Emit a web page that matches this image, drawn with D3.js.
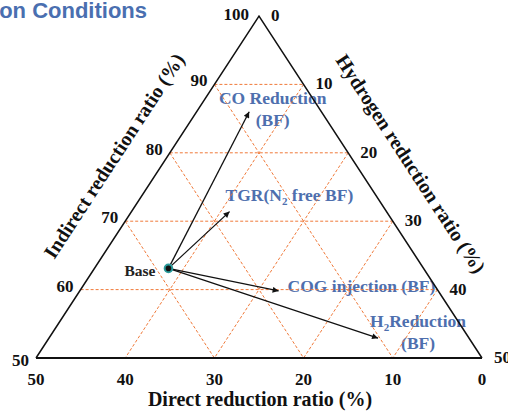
<!DOCTYPE html>
<html><head><meta charset="utf-8">
<script src="https://cdn.jsdelivr.net/npm/d3@7"></script>
<style>body{margin:0;background:#fff}svg{display:block}</style>
</head><body>
<script>
// ---- data ----
const indirectTicks = [100, 90, 80, 70, 60, 50];
const hydrogenTicks = [0, 10, 20, 30, 40, 50];
const directTicks = [50, 40, 30, 20, 10, 0];
const gridIndirect = [60, 70, 80, 90];
const gridDirect = [10, 20, 30];
const gridHydrogen = [10, 20, 30, 40];
const baseLabel = "Base";
const baseIndirect = 63.1;
const baseHydrogen = 8.3;
const caseNames = ["CO Reduction", "TGR", "COG injection", "H2 Reduction"];
const caseIndirect = [86.0, 71.4, 59.8, 52.9];
const caseHydrogen = [5.9, 11.0, 22.3, 36.9];
// label text pieces: [text, isSubscript] per line
const caseLabelLines = [
  [[["CO Reduction", 0]], [["(BF)", 0]]],
  [[["TGR(N", 0], ["2", 1], [" free BF)", 0]]],
  [[["COG injection (BF)", 0]]],
  [[["H", 0], ["2", 1], ["Reduction", 0]], [["(BF)", 0]]]
];
const titleText = "on Conditions";
const axisIndirect = "Indirect reduction ratio (%)";
const axisHydrogen = "Hydrogen reduction ratio (%)";
const axisDirect = "Direct reduction ratio (%)";

// ---- layout ----
const W = 508, H = 414;
const svg = d3.select("body").append("svg").attr("width", W).attr("height", H);
const serif = "'Liberation Serif','Times New Roman',serif";
const blue = "#4e6fae";
const orange = "#f07a3a";

const yScale = d3.scaleLinear().domain([50, 100]).range([358, 16]);
const hScale = d3.scaleLinear().domain([0, 50]).range([36, 482]);
const shear = d3.scaleLinear().domain([50, 100]).range([0, 223]);
const pos = (I, Hy) => [hScale(Hy) + shear(I), yScale(I)];

// title fragment
svg.append("text").attr("x", 147).attr("y", 18).attr("text-anchor", "end")
  .attr("font-family", "'Liberation Sans',Arial,sans-serif").attr("font-weight", "bold")
  .attr("font-size", 22).attr("fill", "#4a6fb0").text(titleText);

// case labels (drawn under grid)
const labelOffsets = [[23.5, -8, "middle"], [-4, -11, "start"], [9, 1, "start"], [40, -11, "middle"]];
const lineGap = 22;
caseNames.forEach((n, i) => {
  const [tx, ty] = pos(caseIndirect[i], caseHydrogen[i]);
  const [dx, dy, anchor] = labelOffsets[i];
  caseLabelLines[i].forEach((line, li) => {
    const t = svg.append("text").attr("x", tx + dx).attr("y", ty + dy + li * lineGap)
      .attr("text-anchor", anchor).attr("font-family", serif).attr("font-weight", "bold")
      .attr("font-size", 17.5).attr("fill", blue);
    line.forEach(([s, sub]) => {
      const sp = t.append("tspan").text(s);
      if (sub) sp.attr("font-size", 11).attr("dy", 4);
      else if (t.selectAll("tspan").size() > 1) sp.attr("dy", -4);
    });
  });
});

// grid
const grid = svg.append("g").attr("stroke", orange).attr("stroke-width", 1)
  .attr("stroke-dasharray", "3,2").attr("fill", "none");
const line = d3.line();
gridIndirect.forEach(I => grid.append("path").attr("d", line([pos(I, 0), pos(I, 100 - I)])));
gridDirect.forEach(D => grid.append("path").attr("d", line([pos(100 - D, 0), pos(50, 50 - D)])));
gridHydrogen.forEach(h => grid.append("path").attr("d", line([pos(100 - h, h), pos(50, h)])));

// triangle
svg.append("path").attr("d", line([pos(50, 0), pos(100, 0), pos(50, 50)]))
  .attr("fill", "none").attr("stroke", "#111").attr("stroke-width", 1.5);
svg.append("path").attr("d", line([pos(50, 0), pos(50, 50)]))
  .attr("stroke", "#111").attr("stroke-width", 2.2);

// arrows
svg.append("defs").append("marker").attr("id", "ah").attr("viewBox", "0 0 10 10")
  .attr("refX", 10).attr("refY", 5).attr("markerWidth", 9).attr("markerHeight", 6)
  .attr("markerUnits", "userSpaceOnUse").attr("orient", "auto")
  .append("path").attr("d", "M0,0L10,5L0,10z").attr("fill", "#111");
const b = pos(baseIndirect, baseHydrogen);
caseNames.forEach((n, i) => {
  svg.append("path").attr("d", line([b, pos(caseIndirect[i], caseHydrogen[i])]))
    .attr("stroke", "#111").attr("stroke-width", 1.3).attr("fill", "none")
    .attr("marker-end", "url(#ah)");
});
svg.append("circle").attr("cx", b[0]).attr("cy", b[1]).attr("r", 3.8)
  .attr("fill", "#111").attr("stroke", "#2a9a9a").attr("stroke-width", 2);
svg.append("text").attr("x", b[0] - 13).attr("y", b[1] + 8).attr("text-anchor", "end")
  .attr("font-family", serif).attr("font-weight", "bold").attr("font-size", 15.5)
  .attr("fill", "#222").text(baseLabel);

// tick labels
const tickStyle = s => s.attr("font-family", serif).attr("font-weight", "bold")
  .attr("font-size", 17).attr("fill", "#111");
indirectTicks.forEach(I => {
  const [x, y] = pos(I, 0);
  svg.append("text").attr("x", x - (I === 100 ? 10 : 7)).attr("y", y + (I === 50 ? 8 : I === 100 ? 4 : 2))
    .attr("text-anchor", "end").call(tickStyle).text(I);
});
hydrogenTicks.forEach(h => {
  const [x, y] = pos(100 - h, h);
  svg.append("text").attr("x", x + 12).attr("y", y + 5)
    .attr("text-anchor", "start").call(tickStyle).text(h);
});
directTicks.forEach(D => {
  const [x, y] = pos(50, 50 - D);
  svg.append("text").attr("x", x).attr("y", y + 27)
    .attr("text-anchor", "middle").call(tickStyle).text(D);
});

// axis titles
const ang = Math.atan2(342, 223) * 180 / Math.PI;
const titleStyle = s => s.attr("font-family", serif).attr("font-weight", "bold")
  .attr("font-size", 20).attr("fill", "#111");
svg.append("text").attr("transform", `translate(116,157) rotate(${-ang})`)
  .attr("text-anchor", "middle").attr("dominant-baseline", "middle")
  .call(titleStyle).text(axisIndirect);
svg.append("text").attr("transform", `translate(409,165) rotate(${ang})`)
  .attr("text-anchor", "middle").attr("dominant-baseline", "middle")
  .call(titleStyle).text(axisHydrogen);
svg.append("text").attr("x", 260).attr("y", 406).attr("text-anchor", "middle")
  .call(titleStyle).text(axisDirect);
</script>
</body></html>
